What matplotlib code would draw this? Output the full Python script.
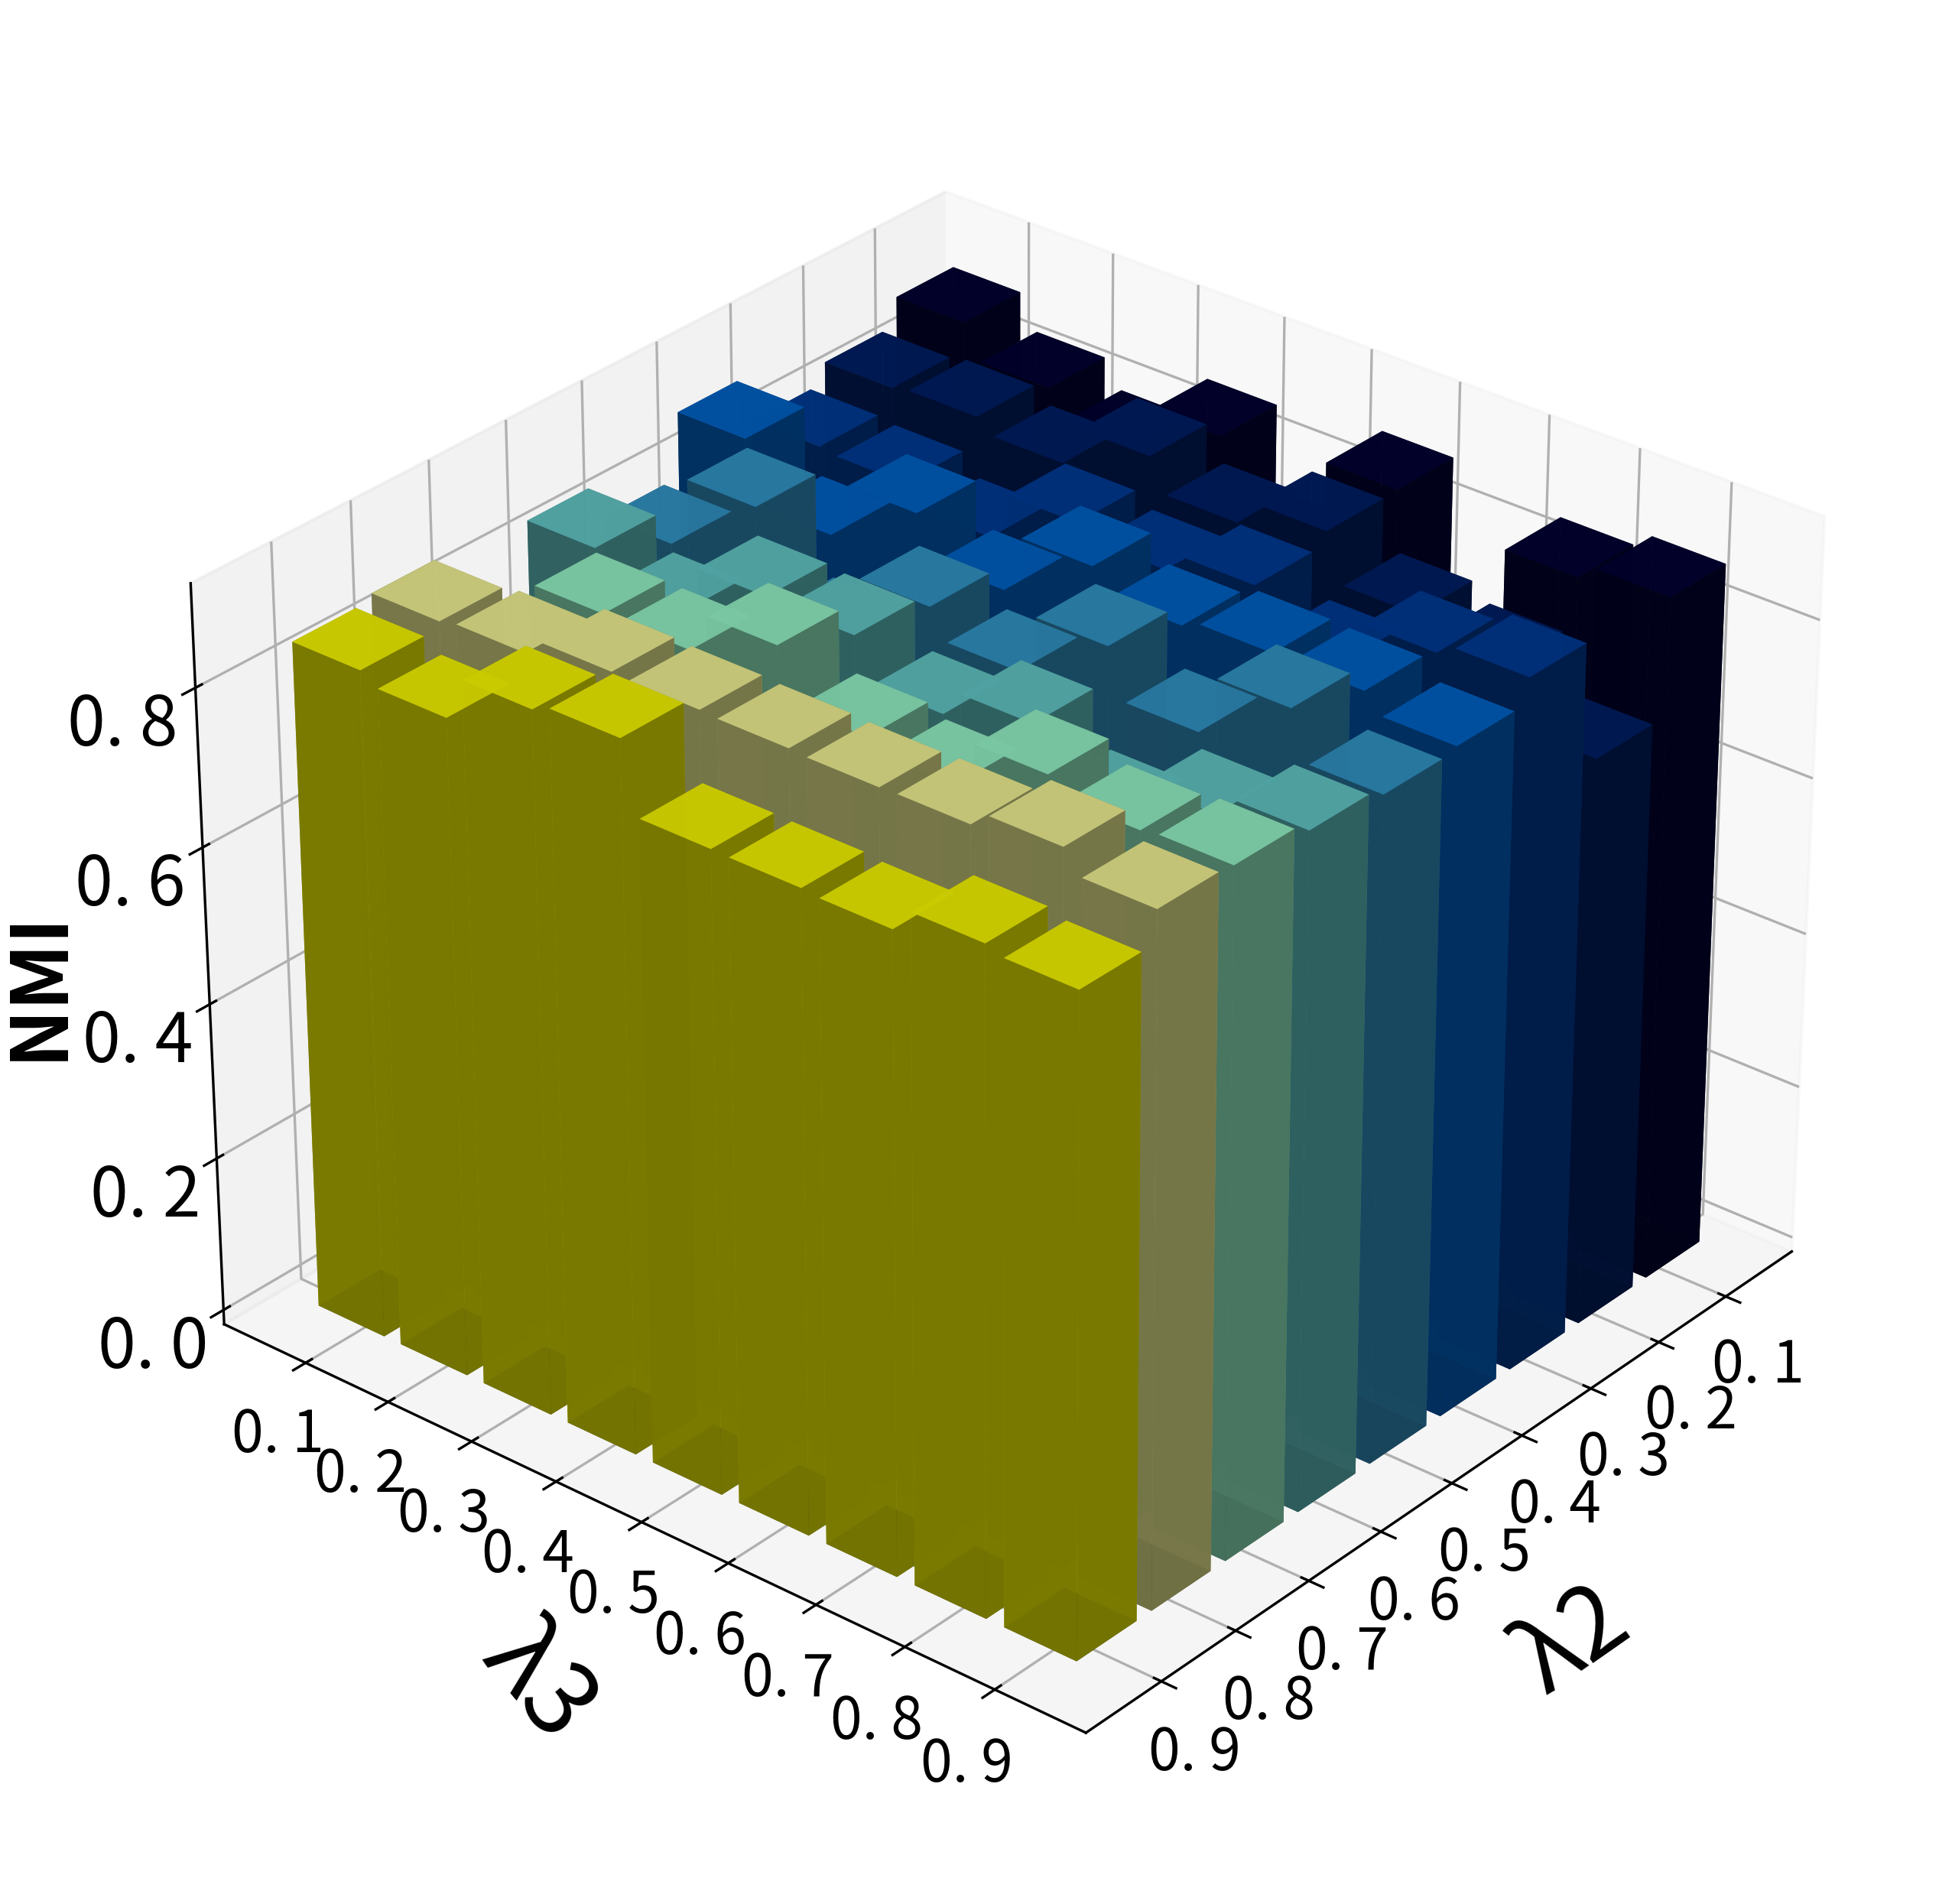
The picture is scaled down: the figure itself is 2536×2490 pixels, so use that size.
import numpy as np
import matplotlib
matplotlib.use('Agg')
import matplotlib.pyplot as plt
from matplotlib.colors import LightSource

plt.rcParams['font.family'] = ['Noto Sans CJK SC', 'DejaVu Sans']

lam = [0.1, 0.2, 0.3, 0.4, 0.5, 0.6, 0.7, 0.8, 0.9]
tick_text = ['0. 1', '0. 2', '0. 3', '0. 4', '0. 5', '0. 6', '0. 7', '0. 8', '0. 9']
z_ticks = [0.0, 0.2, 0.4, 0.6, 0.8]
z_text = ['0. 0', '0. 2', '0. 4', '0. 6', '0. 8']

# one list per lambda2 value, along lambda3 = 0.1 ... 0.9
nmi_01 = [0.884, 0.841, 0.807, 0.863, 0.755, 0.880, 0.660, 0.856, 0.875]
nmi_02 = [0.849, 0.854, 0.837, 0.888, 0.847, 0.879, 0.819, 0.799, 0.727]
nmi_03 = [0.824, 0.820, 0.794, 0.855, 0.839, 0.863, 0.812, 0.867, 0.881]
nmi_04 = [0.884, 0.805, 0.875, 0.822, 0.895, 0.865, 0.875, 0.873, 0.850]
nmi_05 = [0.802, 0.891, 0.770, 0.853, 0.817, 0.892, 0.831, 0.905, 0.845]
nmi_06 = [0.848, 0.810, 0.874, 0.870, 0.817, 0.850, 0.784, 0.830, 0.856]
nmi_07 = [0.700, 0.861, 0.860, 0.910, 0.842, 0.830, 0.887, 0.865, 0.869]
nmi_08 = [0.860, 0.865, 0.886, 0.884, 0.882, 0.880, 0.881, 0.900, 0.872]
nmi_09 = [0.852, 0.838, 0.893, 0.903, 0.814, 0.813, 0.810, 0.840, 0.832]
nmi_rows = [nmi_01, nmi_02, nmi_03, nmi_04, nmi_05, nmi_06, nmi_07, nmi_08, nmi_09]

row_colors = ['#00002a', '#001954', '#00317c', '#0052a6', '#2a7ca6',
              '#52a6a6', '#7ccaa6', '#cacb7c', '#cfcf00']

fig = plt.figure(figsize=(2536/300., 2490/300.), dpi=300)
ax = fig.add_axes([0.0089, 0.0, 1, 1], projection='3d')
ax.view_init(elev=30, azim=40)

w = 0.08
ls = LightSource(azdeg=225, altdeg=72)
ys = np.array(lam) - w/2.
# one bar3d per lambda2 row, same colour along the row
for i, row in enumerate(nmi_rows):
    ax.bar3d(np.full(9, lam[i] - w/2.), ys, np.zeros(9), w, w, row,
             color=row_colors[i], alpha=0.92, lightsource=ls)

ax.set_xlim(0, 1)
ax.set_ylim(0, 1)
ax.set_zlim(-0.019, 0.929)
ax.set_xticks(lam)
ax.set_yticks(lam)
ax.set_zticks(z_ticks)
ax.set_xticklabels(tick_text, fontsize=18)
ax.set_yticklabels(tick_text, fontsize=18)
ax.set_zticklabels(z_text, fontsize=21.5)
ax.tick_params(axis='z', pad=5.8)
ax.set_box_aspect((4, 4, 3), zoom=0.927)

fig.text(0.0198, 0.4825, 'NMI', rotation=90, fontsize=24.5, fontweight='bold',
         ha='center', va='center')
fig.text(0.2774, 0.1156, 'λ3', rotation=-50, fontsize=32, ha='center', va='center')
fig.text(0.812, 0.138, 'λ2', rotation=35, fontsize=31, ha='center', va='center')

fig.savefig('out.png', dpi=300)
